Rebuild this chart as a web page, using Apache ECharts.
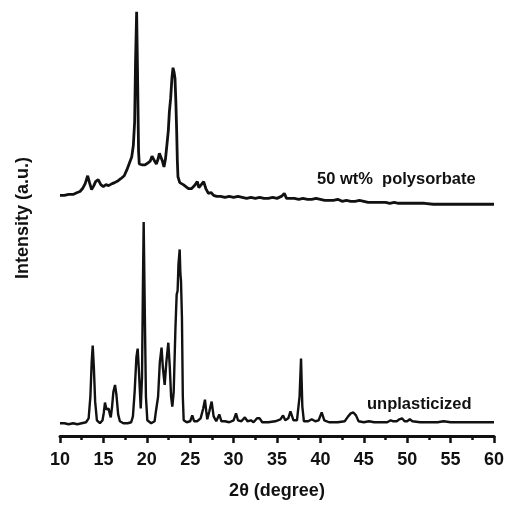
<!DOCTYPE html>
<html>
<head>
<meta charset="utf-8">
<script src="https://cdn.jsdelivr.net/npm/echarts@6/dist/echarts.min.js"></script>
<style>html,body{margin:0;padding:0;background:#fff}#c{width:507px;height:505px}</style>
</head>
<body>
<div id="c"></div>
<script>
// 2θ tick labels
var xTicks = [10, 15, 20, 25, 30, 35, 40, 45, 50, 55, 60];

// unplasticized pattern: [2θ, intensity (a.u.)]
var unplasticized = [
[10.0,13],[10.5,13],[11.0,12],[11.5,13],[12.0,12],[12.5,13],[13.0,14],[13.3,18],[13.5,40],[13.65,75],
[13.77,92],[13.9,70],[14.05,35],[14.25,16],[14.6,13],[14.9,16],[15.05,24],[15.18,34],[15.35,27],[15.45,26],
[15.6,28],[15.75,22],[15.85,19],[16.0,30],[16.15,45],[16.34,52],[16.5,42],[16.7,22],[16.9,15],[17.3,13],
[17.8,13],[18.2,14],[18.4,20],[18.6,45],[18.8,80],[18.95,89],[19.1,65],[19.3,28],[19.45,60],[19.55,150],
[19.64,218],[19.75,140],[19.9,40],[20.06,16],[20.5,13],[20.9,15],[21.05,25],[21.15,27],[21.3,40],[21.5,75],
[21.7,90],[21.85,70],[22.06,52],[22.25,75],[22.48,95],[22.65,70],[22.8,40],[22.94,30],[23.1,45],[23.3,110],
[23.44,144],[23.55,148],[23.65,175],[23.79,190],[23.87,165],[23.94,158],[24.05,120],[24.15,40],[24.25,16],[24.6,14],
[25.0,15],[25.24,21],[25.45,15],[25.8,15],[26.2,18],[26.5,28],[26.7,37],[26.85,25],[26.97,17],[27.2,25],
[27.47,35],[27.7,20],[28.0,15],[28.35,22],[28.6,15],[29.0,15],[29.5,14],[30.0,16],[30.28,23],[30.5,16],
[30.9,15],[31.3,19],[31.6,15],[32.0,16],[32.3,14],[32.7,18],[33.0,18],[33.3,14],[34.0,14],[34.8,15],
[35.4,17],[35.7,21],[35.95,16],[36.3,18],[36.55,25],[36.7,26],[36.9,16],[37.3,16],[37.6,40],[37.77,79],
[37.92,30],[38.1,15],[38.6,15],[39.0,17],[39.4,15],[39.8,16],[40.15,24],[40.45,16],[41.0,14],[42.0,14],
[42.8,15],[43.2,20],[43.5,23],[43.8,24],[44.1,21],[44.4,15],[45.0,14],[45.6,15],[46.2,14],[47.0,14],
[47.7,14],[48.1,16],[48.4,15],[48.8,15],[49.1,17],[49.4,18],[49.7,15],[50.0,15],[50.3,17],[50.6,15],
[51.5,14],[52.5,14],[53.5,14],[54.2,15],[55.0,14],[56.0,14],[57.0,14],[58.0,14],[59.0,14],[60.0,14]
];

// 50 wt% polysorbate pattern (offset upward as in the figure): [2θ, intensity (a.u.)]
var polysorbate = [
[10.0,245],[10.5,245],[11.0,246],[11.5,246],[12.0,248],[12.3,249],[12.6,252],[12.9,257],[13.19,265],[13.4,258],
[13.64,251],[13.9,255],[14.1,259],[14.4,261],[14.7,256],[14.99,254],[15.3,256],[15.6,255],[16.0,257],[16.3,258],
[16.7,260],[17.0,262],[17.4,265],[17.7,271],[18.0,278],[18.26,284],[18.45,296],[18.6,320],[18.7,380],[18.83,432],
[18.95,360],[19.05,290],[19.13,277],[19.3,275],[19.5,276],[19.8,276],[20.1,278],[20.4,280],[20.6,285],[20.75,287],
[20.9,280],[21.1,277],[21.3,282],[21.45,288],[21.6,288],[21.8,280],[21.98,274],[22.15,282],[22.3,295],[22.48,311],
[22.6,330],[22.75,344],[22.9,365],[23.02,375],[23.15,370],[23.25,364],[23.35,340],[23.44,311],[23.52,280],[23.59,264],
[23.8,258],[24.0,256],[24.2,256],[24.5,254],[24.8,252],[25.17,252],[25.5,255],[25.82,259],[26.0,253],[26.2,252],
[26.55,259],[26.8,252],[27.1,247],[27.4,248],[27.7,245],[28.05,244],[28.5,244],[29.0,243],[29.5,244],[30.0,243],
[30.5,244],[31.0,243],[31.5,242],[32.0,243],[32.5,242],[33.0,243],[33.5,242],[34.0,242],[34.5,243],[35.0,242],
[35.5,244],[35.84,247],[36.1,242],[36.5,242],[37.0,242],[37.5,241],[38.0,242],[38.5,241],[39.0,241],[39.5,242],
[40.0,241],[40.5,240],[41.0,240],[41.5,240],[42.0,241],[42.5,239],[43.0,240],[43.5,239],[44.0,239],[44.5,240],
[45.0,239],[45.5,238],[46.0,238],[46.5,238],[47.0,238],[47.5,238],[48.0,237],[48.5,238],[49.0,237],[50.0,237],
[51.0,237],[52.0,237],[53.0,236],[54.0,236],[55.0,236],[56.0,236],[57.0,236],[58.0,236],[59.0,236],[60.0,236]
];

var seriesLabels = ['unplasticized', '50 wt%  polysorbate'];

var chart = echarts.init(document.getElementById('c'));
var FONT = 'Liberation Sans';
chart.setOption({
  animation: false,
  backgroundColor: '#fff',
  grid: {left: 60, right: 13, top: 0, bottom: 61},
  xAxis: {
    type: 'value', min: xTicks[0], max: xTicks[xTicks.length - 1], interval: 5,
    name: '2\u03b8 (degree)', nameLocation: 'middle', nameGap: 46,
    nameTextStyle: {fontFamily: FONT, fontWeight: 'bold', fontSize: 18, color: '#111'},
    axisLine: {lineStyle: {color: '#111', width: 3}},
    axisTick: {show: true, inside: false, length: 7, lineStyle: {color: '#111', width: 2.5}},
    minorTick: {show: true, splitNumber: 2, length: 4, lineStyle: {color: '#111', width: 2.5}},
    axisLabel: {fontFamily: FONT, fontWeight: 'bold', fontSize: 18, color: '#111', margin: 15},
    splitLine: {show: false}
  },
  yAxis: {
    type: 'value', min: 0, max: 444,
    name: 'Intensity (a.u.)', nameLocation: 'middle', nameGap: 28, nameRotate: 90,
    nameTextStyle: {fontFamily: FONT, fontWeight: 'bold', fontSize: 18, color: '#111'},
    axisLine: {show: false}, axisTick: {show: false}, axisLabel: {show: false}, splitLine: {show: false}
  },
  graphic: [
    {type: 'text', left: 367, top: 396, style: {text: seriesLabels[0], fontFamily: FONT, fontWeight: 'bold', fontSize: 16.5, fill: '#111'}},
    {type: 'text', left: 317, top: 171, style: {text: seriesLabels[1], fontFamily: FONT, fontWeight: 'bold', fontSize: 16.5, fill: '#111'}}
  ],
  series: [
    {type: 'line', name: seriesLabels[0], data: unplasticized, showSymbol: false, lineStyle: {color: '#111', width: 2.4}, z: 3},
    {type: 'line', name: seriesLabels[1], data: polysorbate, showSymbol: false, lineStyle: {color: '#111', width: 2.8}, z: 3}
  ]
});
</script>
</body>
</html>
